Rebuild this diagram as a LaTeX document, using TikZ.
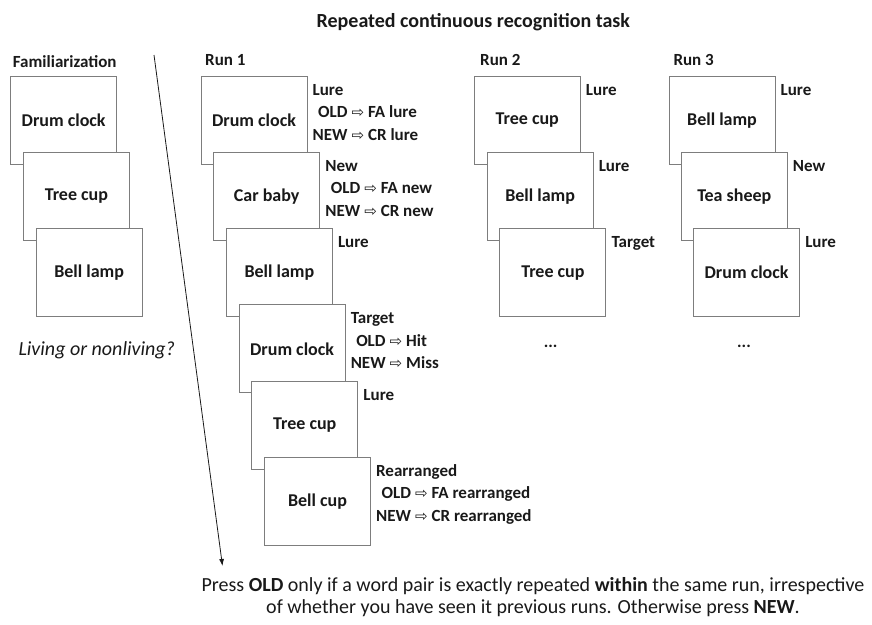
\documentclass[tikz,border=0pt]{standalone}
\usepackage{fontspec}
\usetikzlibrary{arrows.meta}
\setmainfont{Carlito}
\newfontfamily\symbolfont{DejaVu Sans}
\definecolor{frame_gray}{RGB}{125,125,125}
\definecolor{ink}{RGB}{25,25,25}
\newcommand{\imp}{\hspace{4pt}{\symbolfont\mdseries\fontsize{15}{15}\selectfont ⇨}\hspace{4pt}}
\tikzset{
	card/.style={rectangle,draw=frame_gray,fill=white,line width=0.9pt,minimum width=106pt,minimum height=88pt,inner sep=0pt,text=ink,font=\fontsize{18}{22}\selectfont\bfseries},
	tag/.style={anchor=base west,inner sep=0pt,text=ink,font=\fontsize{17}{22.5}\selectfont\bfseries},
	head/.style={anchor=base west,inner sep=0pt,text=ink,font=\fontsize{17}{20}\selectfont\bfseries},
}

\begin{document}
\begin{tikzpicture}[x=1pt,y=-1pt]
	\useasboundingbox (0,0) rectangle (872,624);

	\node[anchor=base,inner sep=0pt,text=ink,font=\fontsize{20}{24}\selectfont\bfseries] (title) at (473.3,27.5) {Repeated continuous recognition task};
	\node[head] (fam) at (12.7,67.5) {Familiarization};
	\node[head] (run1) at (205,65.5) {Run 1};
	\node[head] (run2) at (480,65.5) {Run 2};
	\node[head] (run3) at (673.3,65.5) {Run 3};

	\foreach \i/\w in {0/Drum clock,1/Tree cup,2/Bell lamp}
		\node[card] (f\i) at ({63.7+12.7*\i},{120.2+76.2*\i}) {\w};
	\foreach \i/\w in {0/Drum clock,1/Car baby,2/Bell lamp,3/Drum clock,4/Tree cup,5/Bell cup}
		\node[card] (a\i) at ({254+12.7*\i},{120.2+76.2*\i}) {\w};
	\foreach \i/\w in {0/Tree cup,1/Bell lamp,2/Tree cup}
		\node[card] (b\i) at ({527.3+12.8*\i},{120.2+76.2*\i}) {\w};
	\foreach \i/\w in {0/Bell lamp,1/Tea sheep,2/Drum clock}
		\node[card] (c\i) at ({722+12.3*\i},{120.2+76.2*\i}) {\w};

	\node[tag] (ta0) at ([xshift=5pt,yshift=-19.5pt]a0.north east) {\begin{tabular}[t]{@{}r@{\imp}l@{}}\multicolumn{2}{@{}l@{}}{Lure}\\OLD&FA lure\\NEW&CR lure\end{tabular}};
	\node[tag] (ta1) at ([xshift=5pt,yshift=-19.5pt]a1.north east) {\begin{tabular}[t]{@{}r@{\imp}l@{}}\multicolumn{2}{@{}l@{}}{New}\\OLD&FA new\\NEW&CR new\end{tabular}};
	\node[tag] (ta2) at ([xshift=5pt,yshift=-19.5pt]a2.north east) {Lure};
	\node[tag] (ta3) at ([xshift=5pt,yshift=-19.5pt]a3.north east) {\begin{tabular}[t]{@{}r@{\imp}l@{}}\multicolumn{2}{@{}l@{}}{Target}\\OLD&Hit\\NEW&Miss\end{tabular}};
	\node[tag] (ta4) at ([xshift=5pt,yshift=-19.5pt]a4.north east) {Lure};
	\node[tag] (ta5) at ([xshift=5pt,yshift=-19.5pt]a5.north east) {\begin{tabular}[t]{@{}r@{\imp}l@{}}\multicolumn{2}{@{}l@{}}{Rearranged}\\OLD&FA rearranged\\NEW&CR rearranged\end{tabular}};

	\foreach \x/\y in {b0/Lure,b1/Lure,b2/Target,c0/Lure,c1/New,c2/Lure}
		\node[tag] (t\x) at ([xshift=5pt,yshift=-19.5pt]\x.north east) {\y};

	\node[inner sep=0pt,text=ink,font=\fontsize{17}{20}\selectfont\bfseries] (more2) at (550.7,346.7) {...};
	\node[inner sep=0pt,text=ink,font=\fontsize{17}{20}\selectfont\bfseries] (more3) at (744,346.7) {...};

	\node[anchor=base west,inner sep=0pt,text=ink,font=\fontsize{20}{24}\selectfont\itshape] (task) at (18.3,355) {Living or nonliving?};

	\coordinate (time_top) at (154,55);
	\coordinate (time_end) at (222.5,566);
	\draw[ink,line width=0.8pt,-{Latex[length=7pt,width=5pt]}] (time_top) -- (time_end);

	\node[anchor=center,align=center,inner sep=0pt,text=ink,font=\fontsize{20}{22}\selectfont] (rule) at (533,597.5) {Press \textbf{OLD} only if a word pair is exactly repeated \textbf{within} the same run, irrespective\\of whether you have seen it previous runs. Otherwise press \textbf{NEW}.};
\end{tikzpicture}
\end{document}
